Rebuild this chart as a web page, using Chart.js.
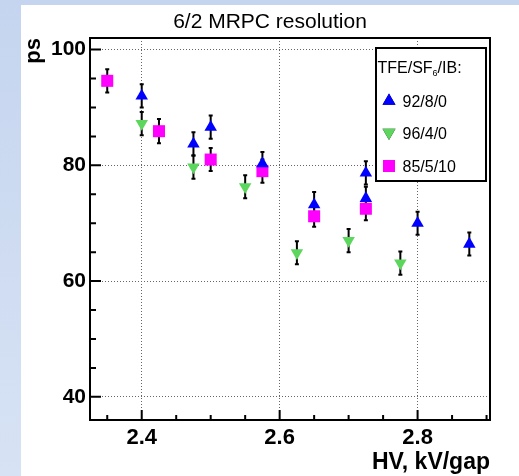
<!DOCTYPE html>
<html>
<head>
<meta charset="utf-8">
<script src="https://cdn.jsdelivr.net/npm/chart.js@4/dist/chart.umd.min.js"></script>
<style>
  html, body { margin: 0; padding: 0; }
  body { width: 519px; height: 476px; background: linear-gradient(#c5d5ef, #d7e2f4); position: relative; overflow: hidden; }
  #wrap { position: absolute; left: 21px; top: 5px; width: 498px; height: 471px; background: #fff; }
</style>
</head>
<body>
<div id="wrap"><canvas id="mrpc" width="498" height="471"></canvas></div>
<script>
var chartTitle = '6/2 MRPC resolution';
var xTicks = [2.4, 2.6, 2.8];
var yTicks = [40, 60, 80, 100];

// 92/8/0
var hv1 = [2.4, 2.475, 2.5, 2.575, 2.65, 2.725, 2.725, 2.8, 2.875];
var res1 = [92.0, 83.7, 86.6, 80.3, 73.2, 78.7, 74.3, 70.0, 66.4];
var err1 = [2.0, 2.0, 2.0, 2.0, 2.2, 2.0, 2.0, 2.0, 2.0];
// 96/4/0
var hv2 = [2.4, 2.475, 2.55, 2.625, 2.7, 2.775];
var res2 = [87.2, 79.7, 76.3, 64.9, 67.0, 63.1];
var err2 = [2.0, 2.0, 2.0, 2.0, 2.0, 2.0];
// 85/5/10
var hv3 = [2.35, 2.425, 2.5, 2.575, 2.65, 2.725];
var res3 = [94.6, 85.9, 81.0, 79.0, 71.2, 72.5];
var err3 = [2.0, 2.1, 2.0, 2.0, 1.8, 2.0];

function pts(xs, ys, es) {
    var out = [];
    for (var i = 0; i < xs.length; i++) {
        out.push({x: xs[i], y: ys[i], e: es[i]});
    }
    return out;
}

var frameAndTicks = {
    id: 'frameAndTicks',
    beforeDatasetsDraw: function(chart) {
        var ctx = chart.ctx, xs = chart.scales.x, ys = chart.scales.y;
        // error bars
        ctx.save();
        ctx.strokeStyle = '#000';
        ctx.lineWidth = 2;
        chart.data.datasets.forEach(function(ds) {
            ds.data.forEach(function(p) {
                var px = xs.getPixelForValue(p.x);
                var top = ys.getPixelForValue(p.y + p.e);
                var bot = ys.getPixelForValue(p.y - p.e);
                ctx.beginPath();
                ctx.moveTo(px, top); ctx.lineTo(px, bot);
                ctx.moveTo(px - 2, top); ctx.lineTo(px + 2, top);
                ctx.moveTo(px - 2, bot); ctx.lineTo(px + 2, bot);
                ctx.stroke();
            });
        });
        ctx.restore();
    },
    afterDatasetsDraw: function(chart) {
        var ctx = chart.ctx, a = chart.chartArea, xs = chart.scales.x, ys = chart.scales.y;
        ctx.save();

        // title, centred on the white pad
        ctx.fillStyle = '#000';
        ctx.textAlign = 'center';
        ctx.textBaseline = 'middle';
        ctx.font = '21px "Liberation Sans", Arial, sans-serif';
        ctx.fillText(chartTitle, chart.width / 2, 17);

        ctx.strokeStyle = '#000';
        ctx.lineWidth = 2;
        ctx.strokeRect(a.left, a.top, a.right - a.left, a.bottom - a.top);
        ctx.beginPath();
        // y ticks, every 5, major every 20
        for (var v = 40; v <= 100; v += 5) {
            var py = ys.getPixelForValue(v);
            var len = (yTicks.indexOf(v) >= 0) ? 11 : 6;
            ctx.moveTo(a.left, py); ctx.lineTo(a.left + len, py);
        }
        // x ticks, every 0.05, major every 0.2
        for (var k = 47; k <= 58; k++) {
            var xv = k / 20;
            var px = xs.getPixelForValue(xv);
            var major = xTicks.some(function(t) { return Math.abs(t - xv) < 1e-6; });
            ctx.moveTo(px, a.bottom); ctx.lineTo(px, a.bottom - (major ? 10 : 5));
        }
        ctx.stroke();

        // legend
        var lx = 355, ly = 43, lw = 110, lh = 133;
        ctx.fillStyle = '#fff';
        ctx.fillRect(lx, ly, lw, lh);
        ctx.strokeRect(lx, ly, lw, lh);
        ctx.fillStyle = '#000';
        ctx.textBaseline = 'alphabetic';
        ctx.textAlign = 'left';
        ctx.font = '16px "Liberation Sans", Arial, sans-serif';
        var hx = lx + 1.5, hy = 67.5;
        ctx.fillText('TFE/SF', hx, hy);
        hx += ctx.measureText('TFE/SF').width;
        ctx.font = '9px "Liberation Sans", Arial, sans-serif';
        ctx.fillText('6', hx, hy + 3);
        hx += ctx.measureText('6').width;
        ctx.font = '16px "Liberation Sans", Arial, sans-serif';
        ctx.fillText('/IB:', hx, hy);

        var rows = [96, 127.5, 161];
        chart.data.datasets.forEach(function(ds, i) {
            var my = rows[i];
            Chart.helpers.drawPoint(ctx, {
                pointStyle: ds.pointStyle,
                radius: ds.legendRadius,
                rotation: ds.rotation,
                borderWidth: 0
            }, 368, my);
            ctx.fillStyle = ds.backgroundColor;
            ctx.fill();
            ctx.fillStyle = '#000';
            ctx.fillText(ds.label, 381.5, my + 6);
        });
        ctx.restore();
    }
};

new Chart(document.getElementById('mrpc'), {
    type: 'scatter',
    data: {
        datasets: [
            { label: '92/8/0', data: pts(hv1, res1, err1), pointStyle: 'triangle', rotation: 0,
              pointRadius: 7.2, legendRadius: 7.5, pointRotation: 0,
              backgroundColor: '#0000ff', borderColor: '#0000ff', pointBorderWidth: 0 },
            { label: '96/4/0', data: pts(hv2, res2, err2), pointStyle: 'triangle', rotation: 180,
              pointRadius: 7.2, legendRadius: 7.5, pointRotation: 180,
              backgroundColor: '#5cd65c', borderColor: '#5cd65c', pointBorderWidth: 0 },
            { label: '85/5/10', data: pts(hv3, res3, err3), pointStyle: 'rect', rotation: 0,
              pointRadius: 8.5, legendRadius: 8.5, pointRotation: 0,
              backgroundColor: '#ff00ff', borderColor: '#ff00ff', pointBorderWidth: 0 }
        ]
    },
    options: {
        responsive: false,
        animation: false,
        layout: { padding: { top: 33, right: 29, bottom: 0, left: 0 } },
        plugins: {
            legend: { display: false },
            tooltip: { enabled: false },
            title: { display: false }
        },
        scales: {
            x: {
                type: 'linear',
                min: 2.325,
                max: 2.905,
                afterBuildTicks: function(axis) { axis.ticks = xTicks.map(function(v) { return {value: v}; }); },
                afterFit: function(axis) { axis.height = 56; },
                grid: { color: '#666', lineWidth: 1, drawTicks: false },
                border: { display: false, dash: [1, 2] },
                ticks: {
                    padding: 5,
                    color: '#000',
                    font: { family: '"Liberation Sans", Arial, sans-serif', size: 22, weight: 'bold' },
                    callback: function(v) { return v.toFixed(1); }
                },
                title: {
                    display: true,
                    text: 'HV, kV/gap',
                    align: 'end',
                    color: '#000',
                    padding: 0,
                    font: { family: '"Liberation Sans", Arial, sans-serif', size: 23, weight: 'bold', lineHeight: 1.2 }
                }
            },
            y: {
                type: 'linear',
                min: 36,
                max: 102,
                afterBuildTicks: function(axis) { axis.ticks = yTicks.map(function(v) { return {value: v}; }); },
                afterFit: function(axis) { axis.width = 69; },
                grid: { color: '#666', lineWidth: 1, drawTicks: false },
                border: { display: false, dash: [1, 2] },
                ticks: {
                    padding: 4,
                    color: '#000',
                    font: { family: '"Liberation Sans", Arial, sans-serif', size: 21, weight: 'bold' }
                },
                title: {
                    display: true,
                    text: 'ps',
                    align: 'end',
                    color: '#000',
                    padding: 0,
                    font: { family: '"Liberation Sans", Arial, sans-serif', size: 22, weight: 'bold', lineHeight: 1.2 }
                }
            }
        }
    },
    plugins: [frameAndTicks]
});
</script>
</body>
</html>
